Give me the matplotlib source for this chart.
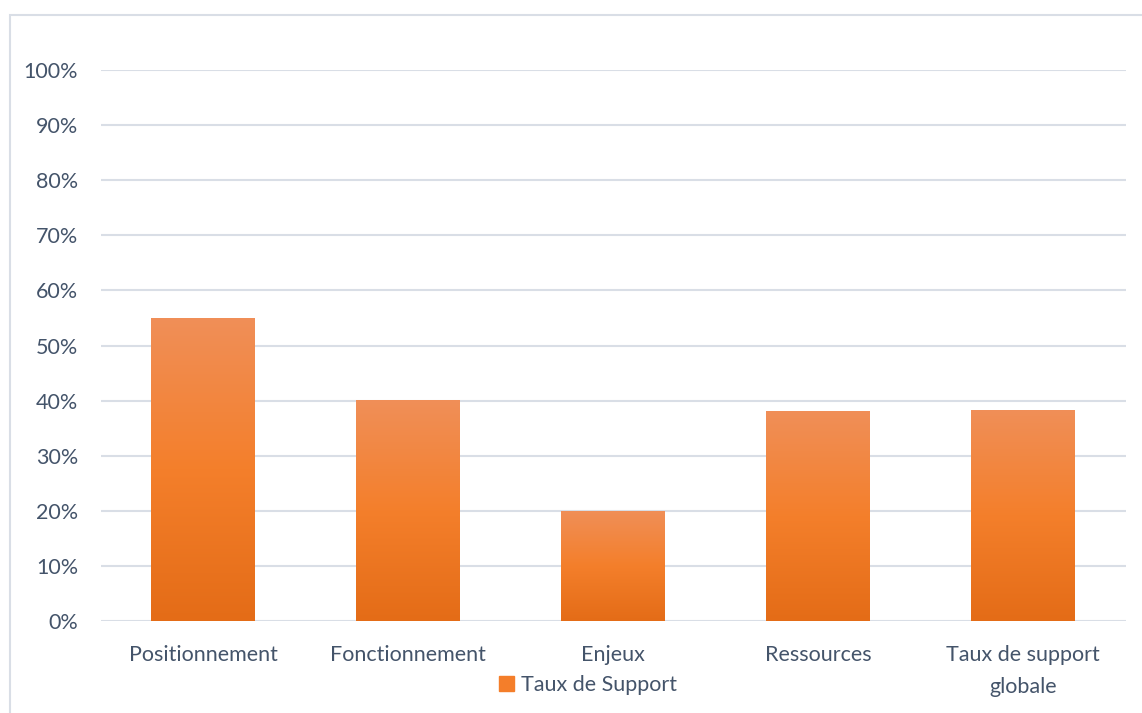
import matplotlib.pyplot as plt
import matplotlib.patches as mpatches
import numpy as np
from matplotlib.colors import LinearSegmentedColormap

categories = ["Positionnement", "Fonctionnement", "Enjeux", "Ressources", "Taux de support\nglobale"]
taux = [0.55, 0.401, 0.20, 0.381, 0.383]

plt.rcParams['font.family'] = ['Lato', 'DejaVu Sans']
texte = "#44546A"
grille = "#D9DEE6"

fig = plt.figure(figsize=(11.42, 7.13), dpi=100)
ax = fig.add_axes([100.5 / 1142, 1 - 621 / 713, 1025 / 1142, 551 / 713])

# cadre léger autour du graphique
fig.add_artist(mpatches.Rectangle((10 / 1142, -0.01), 1.0, 1 - 15 / 713 + 0.01,
                                  transform=fig.transFigure, fill=False,
                                  edgecolor=grille, linewidth=1.5))

x = np.arange(len(categories))
bars = ax.bar(x, taux, width=0.507, color="#F47E2A", label="Taux de Support", zorder=2)

degrade = LinearSegmentedColormap.from_list("orange", ["#E46C17", "#F47F2B", "#F08F58"])
grad = np.linspace(0, 1, 256).reshape(-1, 1)
for b in bars:
    bx, by = b.get_x(), b.get_y()
    w, h = b.get_width(), b.get_height()
    im = ax.imshow(grad, cmap=degrade, aspect="auto", origin="lower",
                   extent=[bx, bx + w, by, by + h], zorder=3)
    im.set_clip_path(b)

ax.set_xlim(-0.5, len(categories) - 0.5)
ax.set_ylim(0, 1.0)
ax.set_yticks(np.arange(0, 1.01, 0.1))
ax.set_yticklabels([f"{int(round(v * 100))}%" for v in np.arange(0, 1.01, 0.1)])
ax.set_xticks(x)
ax.set_xticklabels(categories, linespacing=1.75)
ax.yaxis.grid(True, color=grille, linewidth=1.5, zorder=0)
ax.set_axisbelow(True)
for s in ax.spines.values():
    s.set_visible(False)
ax.tick_params(axis="both", length=0, labelsize=15.5, colors=texte)
ax.tick_params(axis="y", pad=16)
ax.tick_params(axis="x", pad=17)

ax.legend(handles=[mpatches.Patch(color="#F47E2A", label="Taux de Support")],
          loc="center", bbox_to_anchor=(588 / 1142, 1 - 685 / 713),
          bbox_transform=fig.transFigure, frameon=False, fontsize=15.5,
          labelcolor=texte, handlelength=0.7, handleheight=0.7, handletextpad=0.3)

fig.savefig("out.png", dpi=100)
